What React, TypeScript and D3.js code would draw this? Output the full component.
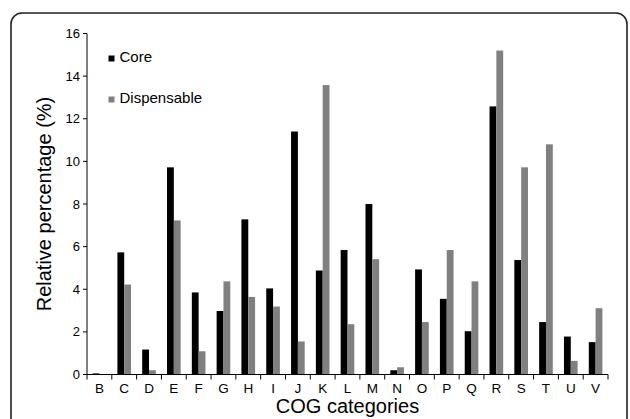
import React from "react";
import * as d3 from "d3";

const categories = ["B","C","D","E","F","G","H","I","J","K","L","M","N","O","P","Q","R","S","T","U","V"];
const coreValues = [0.05,5.73,1.17,9.72,3.85,2.98,7.28,4.04,11.4,4.88,5.84,8.0,0.2,4.93,3.55,2.03,12.58,5.37,2.46,1.78,1.52];
const dispValues = [0.02,4.22,0.2,7.23,1.09,4.37,3.64,3.19,1.55,13.58,2.36,5.41,0.34,2.46,5.84,4.37,15.2,9.72,10.8,0.64,3.11];
const yTicks = [0,2,4,6,8,10,12,14,16];
const seriesNames = ["Core","Dispensable"];
const seriesColors = ["#000000","#808080"];

const W = 630, H = 419;
const left = 87, right = 608, top = 33.5, bottom = 374.5;
const font = "'Liberation Sans', Arial, Helvetica, sans-serif";

export default function App() {
  const x = d3.scaleBand<string>().domain(categories).range([left, right]).paddingInner(0).paddingOuter(0);
  const y = d3.scaleLinear().domain([0, 16]).range([bottom, top]);
  const bw = x.bandwidth();
  const barW = bw * 0.275;
  const series = [coreValues, dispValues];

  return (
    <svg width={W} height={H} style={{ position: "absolute", left: 0, top: 0, fontFamily: font }}>
      <rect x={0} y={0} width={W} height={H} fill="#fff" />
      <rect x={11} y={13} width={616} height={460} rx={11} ry={11} fill="none" stroke="#222" strokeWidth={1.6} />
      {series.map((vals, si) =>
        vals.map((v, i) => {
          const cx = (x(categories[i]) as number) + bw / 2;
          const x0 = cx - barW + si * barW;
          return (
            <rect key={`${si}-${i}`} x={x0} y={y(v)} width={barW} height={y(0) - y(v)} fill={seriesColors[si]} />
          );
        })
      )}
      {/* y axis */}
      <line x1={left} x2={left} y1={top} y2={bottom} stroke="#000" strokeWidth={1} />
      {yTicks.map((t) => (
        <g key={t}>
          <line x1={left - 4} x2={left} y1={y(t)} y2={y(t)} stroke="#000" />
          <text x={left - 7} y={y(t)} dy="0.35em" textAnchor="end" fontSize={13}>{t}</text>
        </g>
      ))}
      {/* x axis */}
      <line x1={left} x2={right} y1={bottom} y2={bottom} stroke="#000" strokeWidth={1} />
      {categories.map((c) => (
        <line key={"t" + c} x1={(x(c) as number)} x2={(x(c) as number)} y1={bottom} y2={bottom + 5} stroke="#000" />
      ))}
      <line x1={right} x2={right} y1={bottom} y2={bottom + 5} stroke="#000" />
      {categories.map((c) => (
        <text key={"l" + c} x={(x(c) as number) + bw / 2} y={392.5} textAnchor="middle" fontSize={13.5}>{c}</text>
      ))}
      <text x={(left + right) / 2} y={413} textAnchor="middle" fontSize={20}>COG categories</text>
      <text transform={`translate(51,${(top + bottom) / 2}) rotate(-90)`} textAnchor="middle" fontSize={20}>Relative percentage (%)</text>
      {/* legend */}
      {seriesNames.map((n, i) => (
        <g key={n}>
          <rect x={108.5} y={55.5 + i * 41} width={6} height={6} fill={seriesColors[i]} />
          <text x={119.5} y={61.7 + i * 41} fontSize={15}>{n}</text>
        </g>
      ))}
    </svg>
  );
}
